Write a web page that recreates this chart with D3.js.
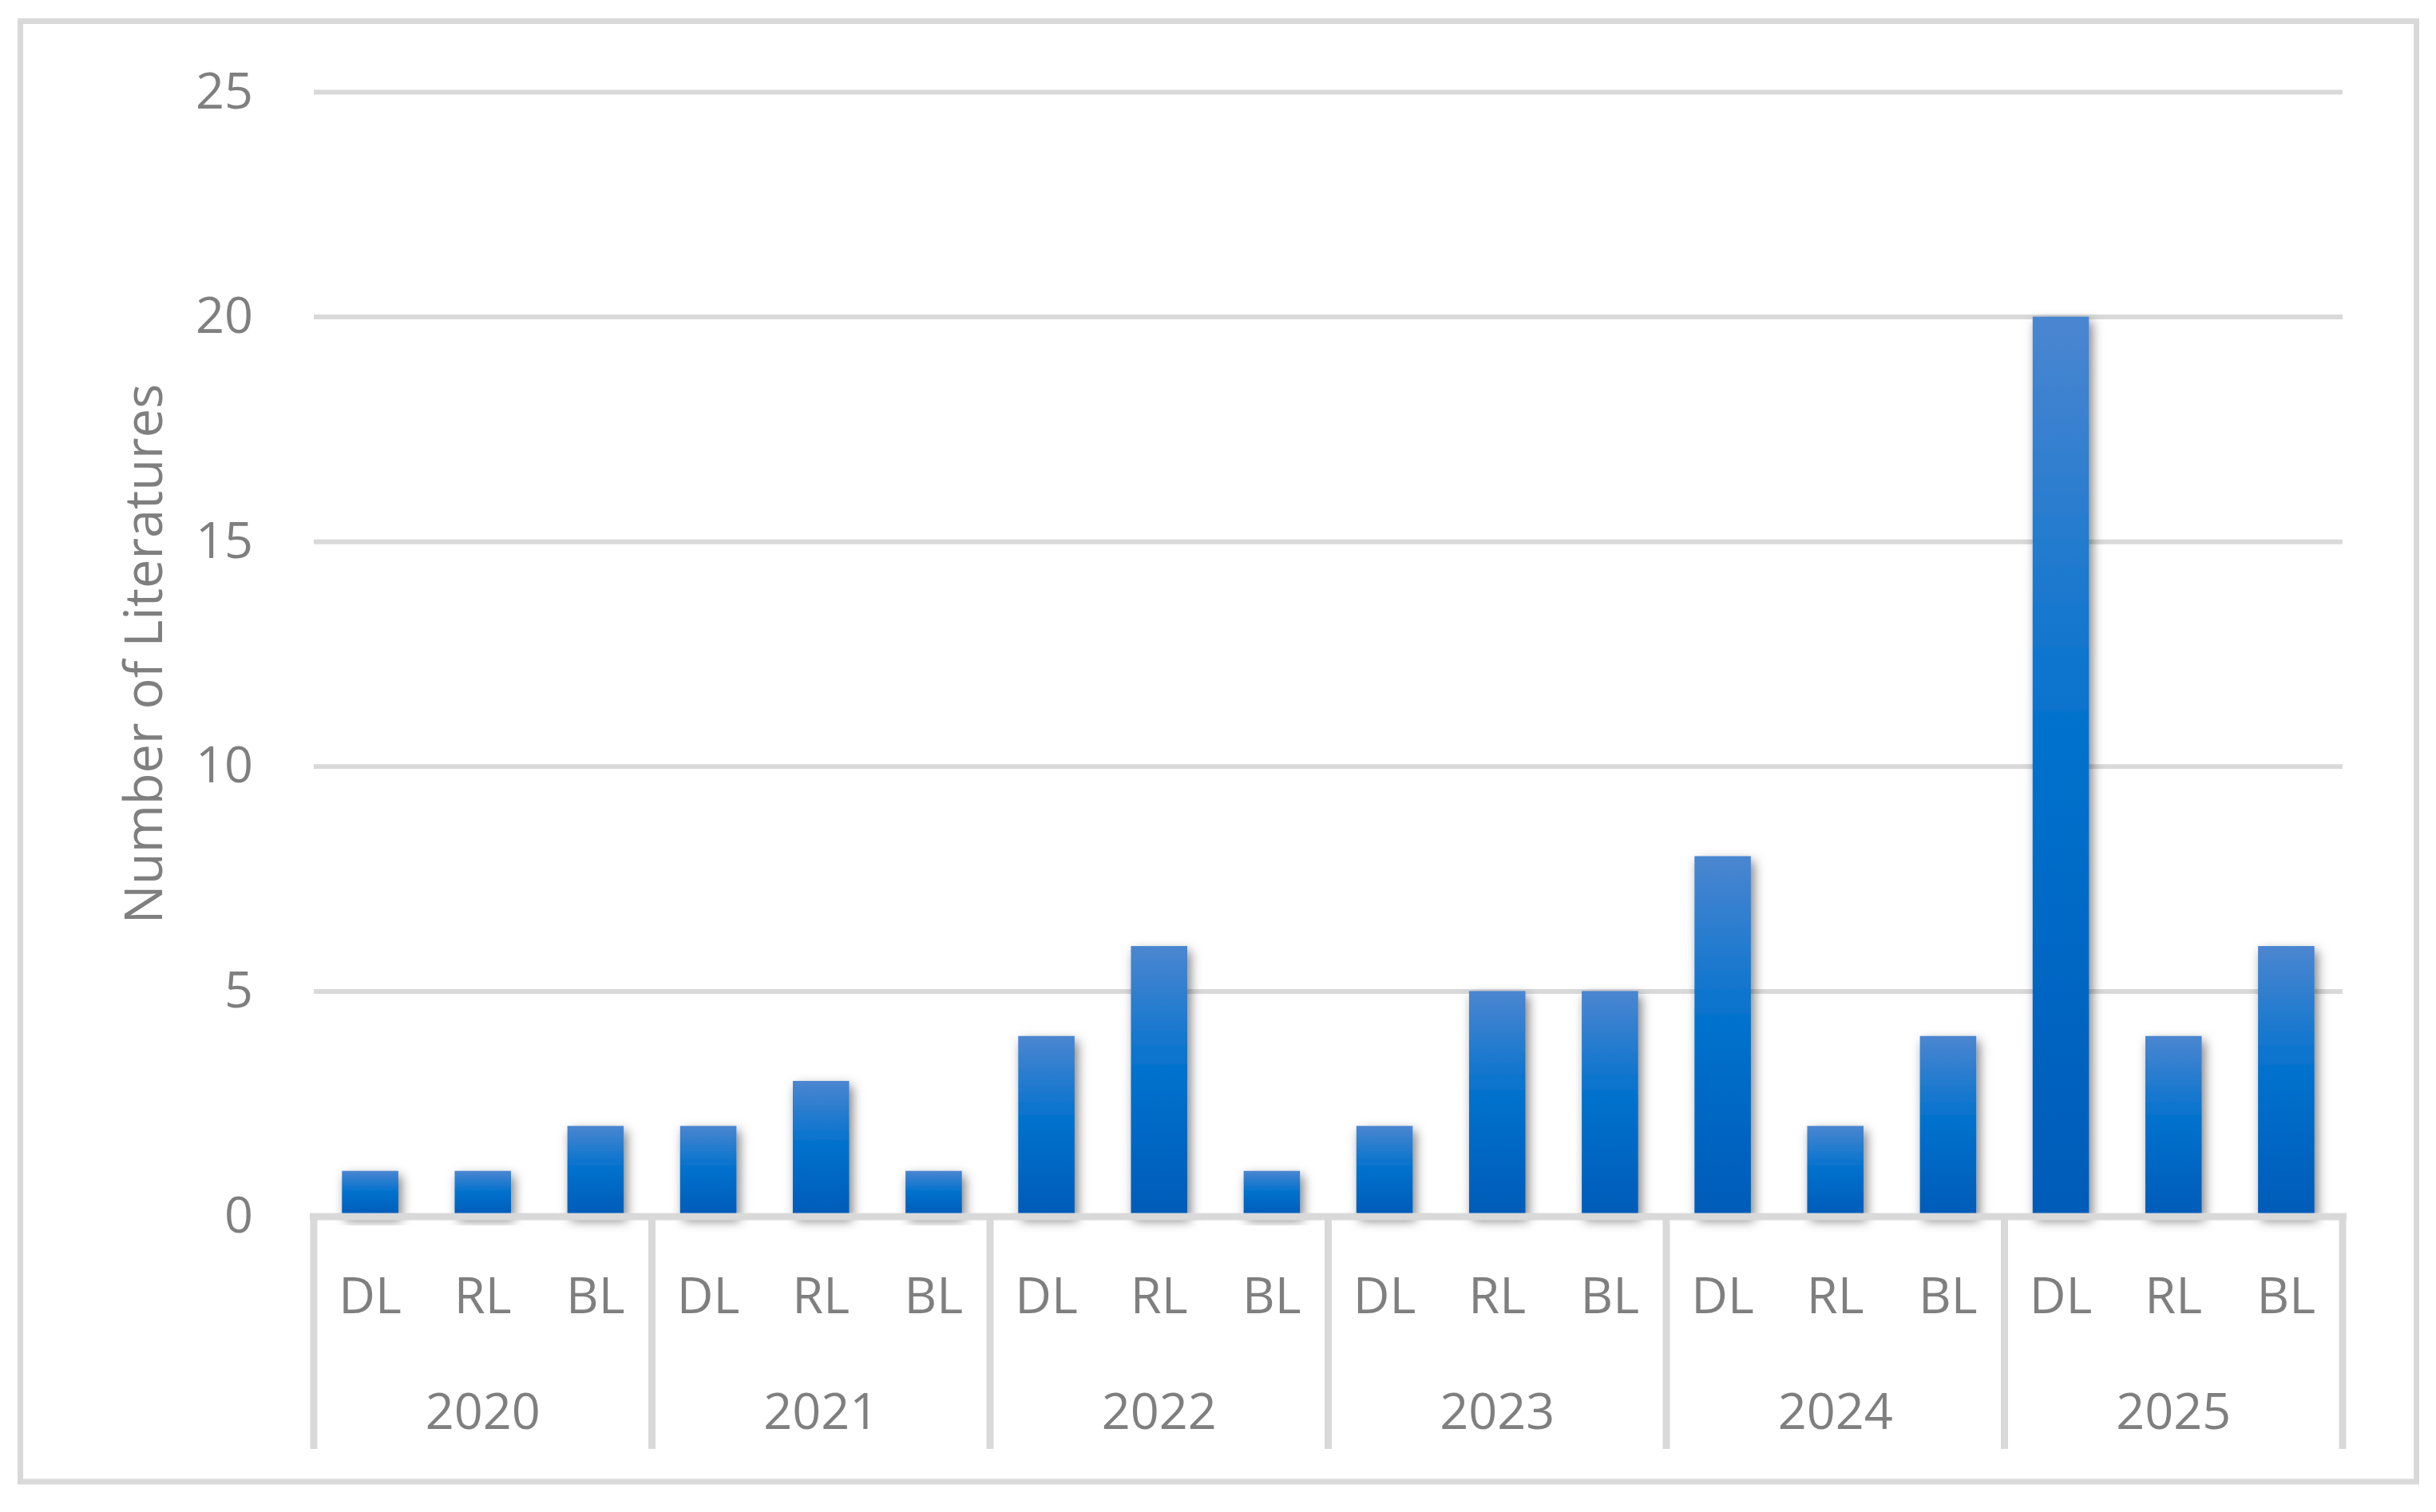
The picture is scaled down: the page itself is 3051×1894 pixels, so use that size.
<!DOCTYPE html>
<html>
<head>
<meta charset="utf-8">
<script src="https://cdn.jsdelivr.net/npm/d3@7"></script>
<style>
  html, body { margin: 0; padding: 0; background: #ffffff; }
  svg { display: block; }
  text { font-family: "Open Sans", "Noto Sans", sans-serif; fill: #7f7f7f; }
</style>
</head>
<body>
<svg id="chart" width="3051" height="1894"></svg>
<script>
const years = ["2020", "2021", "2022", "2023", "2024", "2025"];
const methods = ["DL", "RL", "BL"];
const dlValues = [1, 2, 4, 2, 8, 20];
const rlValues = [1, 3, 6, 5, 2, 4];
const blValues = [2, 1, 1, 5, 4, 6];
const yTicks = [0, 5, 10, 15, 20, 25];
const yTitle = "Number of Literatures";

const W = 3051, H = 1894;
const plot = { left: 393, right: 2934, top: 115, bottom: 1523 };
const gridColor = "#d9d9d9";

const svg = d3.select("#chart");

const seriesByMethod = { DL: dlValues, RL: rlValues, BL: blValues };
const rows = [];
years.forEach((yr, i) => {
  methods.forEach(m => rows.push({ key: yr + "-" + m, year: yr, method: m, value: seriesByMethod[m][i] }));
});

const x = d3.scaleBand()
  .domain(rows.map(d => d.key))
  .range([plot.left, plot.right])
  .paddingInner(0.5)
  .paddingOuter(0.25);

const xYear = d3.scaleBand()
  .domain(years)
  .range([plot.left, plot.right])
  .padding(0);

const y = d3.scaleLinear().domain([0, 25]).range([plot.bottom, plot.top]);

const defs = svg.append("defs");
const grad = defs.append("linearGradient")
  .attr("id", "barGrad").attr("x1", 0).attr("y1", 0).attr("x2", 0).attr("y2", 1);
grad.append("stop").attr("offset", "0%").attr("stop-color", "#4b86d0");
grad.append("stop").attr("offset", "48%").attr("stop-color", "#0071cd");
grad.append("stop").attr("offset", "100%").attr("stop-color", "#005bb8");

const shadow = defs.append("filter").attr("id", "shadow")
  .attr("x", "-60%").attr("y", "-20%").attr("width", "220%").attr("height", "140%");
shadow.append("feDropShadow")
  .attr("dx", 4).attr("dy", 6).attr("stdDeviation", 7)
  .attr("flood-color", "#000").attr("flood-opacity", 0.5);

svg.append("rect")
  .attr("x", 25.5).attr("y", 26.5)
  .attr("width", 3026.5 - 25.5).attr("height", 1856 - 26.5)
  .attr("fill", "#ffffff").attr("stroke", gridColor).attr("stroke-width", 7);

const yAxis = d3.axisLeft(y).tickValues(yTicks).tickSize(-(plot.right - plot.left)).tickPadding(76);
const gy = svg.append("g").attr("transform", `translate(${plot.left},0)`).call(yAxis);
gy.select(".domain").remove();
gy.selectAll(".tick line")
  .attr("stroke", gridColor).attr("stroke-width", 6)
  .attr("display", d => d === 0 ? "none" : null);
gy.selectAll(".tick text")
  .attr("font-size", 63).attr("fill", "#7f7f7f")
  .attr("font-family", "'Open Sans', sans-serif");

svg.append("g").selectAll("rect.bar")
  .data(rows).join("rect")
  .attr("class", "bar")
  .attr("x", d => x(d.key))
  .attr("width", x.bandwidth())
  .attr("y", d => y(d.value))
  .attr("height", d => y(0) - y(d.value))
  .attr("fill", "url(#barGrad)")
  .attr("filter", "url(#shadow)");

svg.append("line")
  .attr("x1", plot.left - 5).attr("x2", plot.right + 5)
  .attr("y1", y(0) + 1).attr("y2", y(0) + 1)
  .attr("stroke", gridColor).attr("stroke-width", 9);

const dividerBottom = 1815;
const dividerX = years.map(yr => xYear(yr)).concat([plot.right]);
svg.append("g").selectAll("line.div")
  .data(dividerX).join("line")
  .attr("class", "div")
  .attr("x1", d => d).attr("x2", d => d)
  .attr("y1", y(0) - 3).attr("y2", dividerBottom)
  .attr("stroke", gridColor).attr("stroke-width", 9);

svg.append("g").selectAll("text.m")
  .data(rows).join("text")
  .attr("class", "m")
  .attr("x", d => x(d.key) + x.bandwidth() / 2)
  .attr("y", 1620)
  .attr("text-anchor", "middle")
  .attr("dominant-baseline", "central")
  .attr("font-size", 63)
  .text(d => d.method);

svg.append("g").selectAll("text.yr")
  .data(years).join("text")
  .attr("class", "yr")
  .attr("x", d => xYear(d) + xYear.bandwidth() / 2)
  .attr("y", 1765)
  .attr("text-anchor", "middle")
  .attr("dominant-baseline", "central")
  .attr("font-size", 63)
  .text(d => d);

svg.append("text")
  .attr("transform", `translate(178,${(plot.top + plot.bottom) / 2}) rotate(-90)`)
  .attr("text-anchor", "middle")
  .attr("dominant-baseline", "central")
  .attr("font-size", 65)
  .text(yTitle);
</script>
</body>
</html>
